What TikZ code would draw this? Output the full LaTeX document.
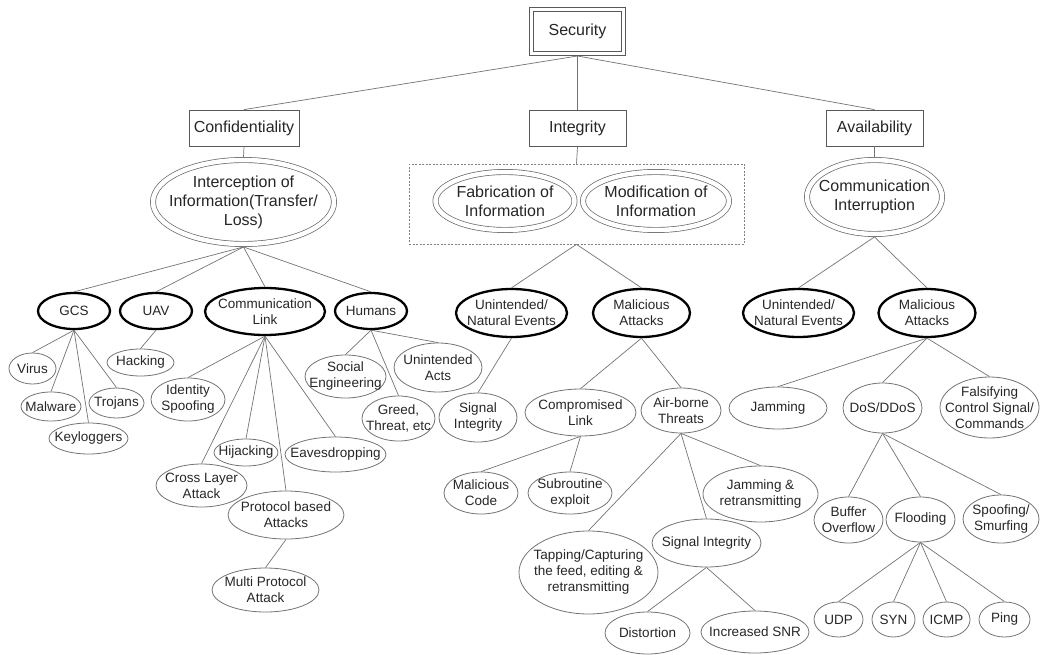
\documentclass[tikz,border=0pt]{standalone}
\usepackage{fontspec}
\setmainfont{Liberation Sans}
\usetikzlibrary{shapes.geometric}
\newcommand\mkell[8]{\node[#1, minimum width=#6, minimum height=#7] (#3) at (#4,#5) {};\node[#2] (#3-t) at (#3.center) {#8};}
\tikzset{
  base/.style={ellipse, inner sep=0pt},
  leaf/.style={base, draw=black!55, line width=0.8pt},
  bold/.style={base, draw=black, line width=2.3pt},
  dbl/.style={base, draw=black!60, line width=0.7pt, double, double distance=4.5pt, outer sep=2.95pt},
  sm/.style={inner sep=0pt, align=center, text=black!85, font=\fontsize{13.5}{16}\selectfont},
  bg/.style={inner sep=0pt, align=center, text=black!85, font=\fontsize{16}{19}\selectfont},
  box/.style={rectangle, draw=black!65, line width=0.8pt, bg},
  dblbox/.style={box, double, double distance=3pt, outer sep=2.3pt},
  grpbox/.style={rectangle, draw=black!50, line width=0.7pt, dash pattern=on 2pt off 1.5pt, inner sep=0pt},
  conn/.style={draw=black!55, line width=0.7pt},
}
\begin{document}
\begin{tikzpicture}[x=1pt,y=-1pt]
\useasboundingbox (0,0) rectangle (1040,655);
% level 0/1
\node[dblbox, minimum width=92.4, minimum height=44.4] (sec) at (577.5,31.5) {Security};
\node[box, minimum width=110, minimum height=36] (conf) at (244,128) {Confidentiality};
\node[box, minimum width=97, minimum height=36] (integ) at (577.5,128) {Integrity};
\node[box, minimum width=97, minimum height=36] (avail) at (874.5,128) {Availability};
% level 2
\mkell{dbl}{bg}{inter}{243.5}{202}{181}{84}{Interception of\\Information(Transfer/\\Loss)}
\node[grpbox, minimum width=335, minimum height=80] (grp) at (576.5,204) {};
\mkell{dbl}{bg}{fab}{505}{201}{139}{58}{Fabrication of\\Information}
\mkell{dbl}{bg}{mod}{656}{201}{146}{58}{Modification of\\Information}
\mkell{dbl}{bg}{commint}{874.5}{197}{135}{74}{Communication\\Interruption}
% level 3
\mkell{bold}{sm}{gcs}{74}{311}{72}{36}{GCS}
\mkell{bold}{sm}{uav}{156}{311}{72}{36}{UAV}
\mkell{bold}{sm}{clink}{265}{311.5}{120}{47}{Communication\\Link}
\mkell{bold}{sm}{hum}{371}{311}{72}{36}{Humans}
\mkell{bold}{sm}{iune}{511.5}{313}{111}{48}{Unintended/\\Natural Events}
\mkell{bold}{sm}{imal}{641.5}{313}{97}{48}{Malicious\\Attacks}
\mkell{bold}{sm}{aune}{798.5}{313}{111}{48}{Unintended/\\Natural Events}
\mkell{bold}{sm}{amal}{927}{313}{97}{48}{Malicious\\Attacks}
% leaves
\mkell{leaf}{sm}{virus}{32.5}{368.5}{47}{31}{Virus}
\mkell{leaf}{sm}{malware}{51}{406.5}{60}{29}{Malware}
\mkell{leaf}{sm}{keylog}{88.5}{438.5}{79}{31}{Keyloggers}
\mkell{leaf}{sm}{trojans}{116.5}{403}{55}{30}{Trojans}
\mkell{leaf}{sm}{hacking}{140.5}{362.5}{67}{27}{Hacking}
\mkell{leaf}{sm}{idspoof}{188}{399.5}{74}{43}{Identity\\Spoofing}
\mkell{leaf}{sm}{hijack}{246}{452.5}{64}{27}{Hijacking}
\mkell{leaf}{sm}{eaves}{335.5}{454.5}{101}{35}{Eavesdropping}
\mkell{leaf}{sm}{cross}{201.5}{485.5}{91}{43}{Cross Layer\\Attack}
\mkell{leaf}{sm}{proto}{286}{515}{116}{48}{Protocol based\\Attacks}
\mkell{leaf}{sm}{multi}{265.5}{590}{107}{44}{Multi Protocol\\Attack}
\mkell{leaf}{sm}{social}{345.5}{376.5}{81}{43}{Social\\Engineering}
\mkell{leaf}{sm}{greed}{398.5}{418.5}{73}{45}{Greed,\\Threat, etc}
\mkell{leaf}{sm}{uacts}{438}{367.5}{88}{49}{Unintended\\Acts}
\mkell{leaf}{sm}{sigint}{478}{417.5}{78}{49}{Signal\\Integrity}
\mkell{leaf}{sm}{complink}{580.5}{412.5}{111}{47}{Compromised\\Link}
\mkell{leaf}{sm}{airborne}{681}{410.5}{80}{45}{Air-borne\\Threats}
\mkell{leaf}{sm}{malcode}{481}{493}{74}{42}{Malicious\\Code}
\mkell{leaf}{sm}{subr}{570}{493}{84}{42}{Subroutine\\exploit}
\mkell{leaf}{sm}{tapping}{588.5}{572.5}{139}{83}{Tapping/Capturing\\the feed, editing \&\\retransmitting}
\mkell{leaf}{sm}{sigint2}{706.5}{543}{109}{48}{Signal Integrity}
\mkell{leaf}{sm}{jamret}{760.5}{494}{115}{56}{Jamming \&\\retransmitting}
\mkell{leaf}{sm}{distort}{647.5}{633}{85}{42}{Distortion}
\mkell{leaf}{sm}{incsnr}{755}{632}{108}{42}{Increased SNR}
\mkell{leaf}{sm}{jamming}{778}{408}{98}{42}{Jamming}
\mkell{leaf}{sm}{dos}{882.5}{408}{79}{50}{DoS/DDoS}
\mkell{leaf}{sm}{falsify}{989.5}{407.5}{99}{61}{Falsifying\\Control Signal/\\Commands}
\mkell{leaf}{sm}{buffer}{848.5}{520}{69}{46}{Buffer\\Overflow}
\mkell{leaf}{sm}{flooding}{920.5}{519.5}{69}{45}{Flooding}
\mkell{leaf}{sm}{spoof}{1001}{519}{76}{48}{Spoofing/\\Smurfing}
\mkell{leaf}{sm}{udp}{838.5}{619.5}{49}{35}{UDP}
\mkell{leaf}{sm}{syn}{893.5}{619.5}{43}{35}{SYN}
\mkell{leaf}{sm}{icmp}{946.5}{619.5}{47}{35}{ICMP}
\mkell{leaf}{sm}{ping}{1004.5}{619.5}{51}{35}{Ping}
% connectors
\foreach \c in {conf,integ,avail} \draw[conn] (sec.south) -- (\c.north);
\draw[conn] (conf.south) -- (inter.north);
\draw[conn] (integ.south) -- (grp.north);
\draw[conn] (avail.south) -- (commint.north);
\foreach \c in {gcs,uav,clink,hum} \draw[conn] (inter.south) -- (\c.north);
\foreach \c in {iune,imal} \draw[conn] (grp.south) -- (\c.north);
\foreach \c in {aune,amal} \draw[conn] (commint.south) -- (\c.north);
\foreach \c in {virus,malware,keylog,trojans} \draw[conn] (gcs.south) -- (\c.north);
\draw[conn] (uav.south) -- (hacking.north);
\foreach \c in {idspoof,cross,hijack,proto,eaves} \draw[conn] (clink.south) -- (\c.north);
\draw[conn] (proto.south) -- (multi.north);
\foreach \c in {social,greed,uacts} \draw[conn] (hum.south) -- (\c.north);
\draw[conn] (iune.south) -- (sigint.north);
\foreach \c in {complink,airborne} \draw[conn] (imal.south) -- (\c.north);
\foreach \c in {malcode,subr} \draw[conn] (complink.south) -- (\c.north);
\foreach \c in {tapping,sigint2,jamret} \draw[conn] (airborne.south) -- (\c.north);
\foreach \c in {distort,incsnr} \draw[conn] (sigint2.south) -- (\c.north);
\foreach \c in {jamming,dos,falsify} \draw[conn] (amal.south) -- (\c.north);
\foreach \c in {buffer,flooding,spoof} \draw[conn] (dos.south) -- (\c.north);
\foreach \c in {udp,syn,icmp,ping} \draw[conn] (flooding.south) -- (\c.north);
\end{tikzpicture}
\end{document}
